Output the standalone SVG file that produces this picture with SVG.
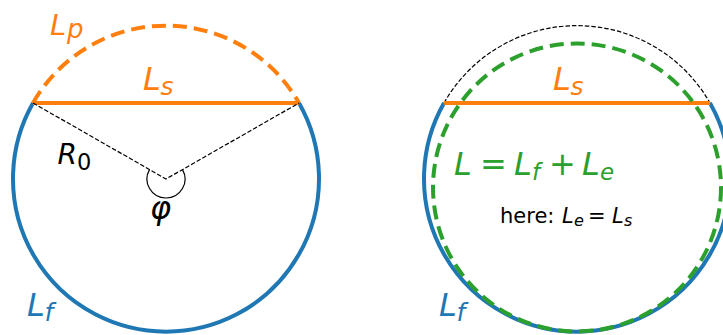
<svg xmlns="http://www.w3.org/2000/svg" width="723" height="335" viewBox="0 0 723 335">
<style>
.blue{fill:none;stroke:#1f77b4;stroke-width:4}
.orange{fill:none;stroke:#ff7f0e;stroke-width:4}
.odash{fill:none;stroke:#ff7f0e;stroke-width:4;stroke-dasharray:14 7}
.gdash{fill:none;stroke:#2ca02c;stroke-width:4;stroke-dasharray:14 7}
.kdash{fill:none;stroke:#000;stroke-width:1.2;stroke-dasharray:4.5 2}
.kthin{fill:none;stroke:#000;stroke-width:1.2}
text{font-family:"DejaVu Sans","Liberation Sans",sans-serif}
.it{font-style:italic}
.up{font-style:normal}
</style>
<rect width="723" height="335" fill="#fff"/>
<g id="left-figure">
  <path class="blue" d="M33 103 A153 153 0 1 0 299 103"/>
  <path class="odash" d="M33 103 A153 153 0 0 1 299 103"/>
  <line class="orange" x1="33" y1="103" x2="299" y2="103"/>
  <path class="kthin" d="M149.5 169.6 A19 19 0 1 0 182.5 169.6"/>
</g>
<g id="connectors">
  <path class="kdash" d="M33 103 L166 179 L299 103"/>
</g>
<g id="left-labels">
  <text x="50" y="35" font-size="29" fill="#ff7f0e"><tspan class="it">L</tspan><tspan class="it" x="67" font-size="26" dy="3">p</tspan></text>
  <text x="143" y="90" font-size="32" fill="#ff7f0e"><tspan class="it">L</tspan><tspan class="it" x="160.5" font-size="25" dy="5">s</tspan></text>
  <text x="57.5" y="164" font-size="28" fill="#000"><tspan class="it">R</tspan><tspan x="77" font-size="22.5" dy="6">0</tspan></text>
  <text class="it" x="150" y="219" font-size="32" fill="#000">φ</text>
  <text x="27" y="316" font-size="32" fill="#1f77b4"><tspan class="it">L</tspan><tspan class="it" x="44.5" font-size="25" dy="5">f</tspan></text>
</g>
<g id="right-figure">
  <path class="blue" d="M444 103 A153 153 0 1 0 710 103"/>
  <path class="kdash" d="M444 103 A153 153 0 0 1 710 103"/>
  <line class="orange" x1="444" y1="103" x2="710" y2="103"/>
  <circle class="gdash" cx="577" cy="187.5" r="144"/>
</g>
<g id="right-labels">
  <text x="553" y="90" font-size="32" fill="#ff7f0e"><tspan class="it">L</tspan><tspan class="it" x="570.5" font-size="25" dy="5">s</tspan></text>
  <text x="454" y="175" font-size="32" fill="#2ca02c"><tspan class="it">L</tspan><tspan x="480">=</tspan><tspan class="it" x="514">L</tspan><tspan class="it" x="532" font-size="23" dy="5">f</tspan><tspan x="549" dy="-5">+</tspan><tspan class="it" x="582">L</tspan><tspan class="it" x="600" font-size="23" dy="5">e</tspan></text>
  <text x="500" y="223" font-size="21" fill="#000"><tspan>here:</tspan><tspan class="it" x="562">L</tspan><tspan class="it" x="574" font-size="16" dy="3">e</tspan><tspan x="588" dy="-3">=</tspan><tspan class="it" x="612">L</tspan><tspan class="it" x="624" font-size="16" dy="3">s</tspan></text>
  <text x="439" y="316" font-size="32" fill="#1f77b4"><tspan class="it">L</tspan><tspan class="it" x="456.5" font-size="25" dy="5">f</tspan></text>
</g>
</svg>
